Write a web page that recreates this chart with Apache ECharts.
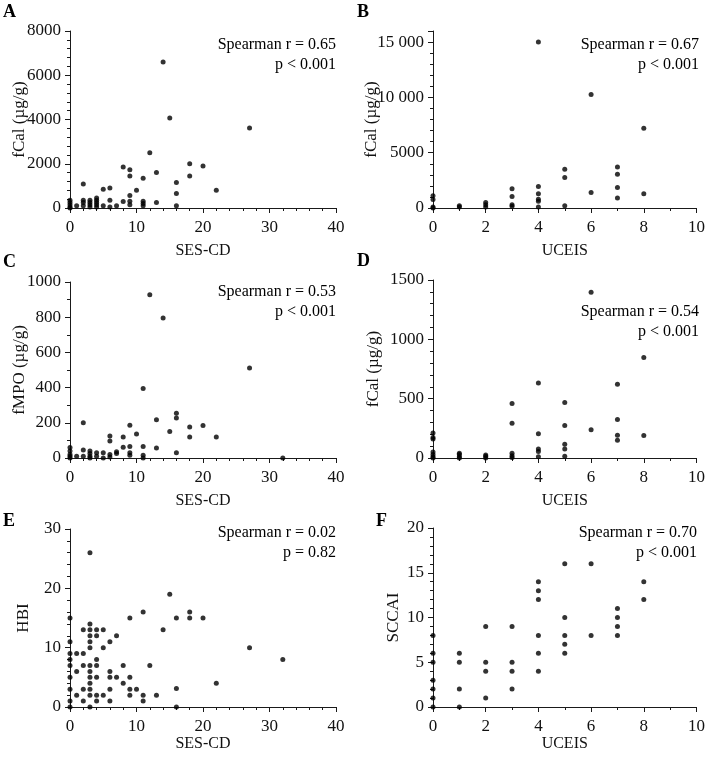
<!DOCTYPE html>
<html>
<head>
<meta charset="utf-8">
<script src="https://cdn.jsdelivr.net/npm/echarts@6/dist/echarts.min.js"></script>
<style>
html,body{margin:0;padding:0;background:#fff;}
#chart{width:708px;height:758px;}
</style>
</head>
<body>
<div id="chart"></div>
<script>
// ---- Data ----
const panelLetters = ['A', 'B', 'C', 'D', 'E', 'F'];
const xNames = ['SES-CD', 'UCEIS', 'SES-CD', 'UCEIS', 'SES-CD', 'UCEIS'];
const yNames = ['fCal (µg/g)', 'fCal (µg/g)', 'fMPO (µg/g)', 'fCal (µg/g)', 'HBI', 'SCCAI'];
const statR = ['Spearman r = 0.65', 'Spearman r = 0.67', 'Spearman r = 0.53', 'Spearman r = 0.54', 'Spearman r = 0.02', 'Spearman r = 0.70'];
const statP = ['p < 0.001', 'p < 0.001', 'p < 0.001', 'p < 0.001', 'p = 0.82', 'p < 0.001'];

// A: fCal vs SES-CD
const fcalVsSes = [
  [0,350],[0,250],[0,150],[0,50],[0,0],
  [1,100],
  [2,1080],[2,350],[2,250],[2,100],
  [3,350],[3,250],[3,150],[3,50],
  [4,450],[4,350],[4,250],[4,150],[4,50],
  [5,850],[5,100],
  [6,900],[6,350],[6,50],
  [7,100],
  [8,1850],[8,290],
  [9,1730],[9,1450],[9,570],[9,300],[9,150],
  [10,800],
  [11,1350],[11,300],[11,200],[11,100],
  [12,2500],
  [13,1600],[13,250],
  [14,6600],
  [15,4070],
  [16,1150],[16,650],[16,100],
  [18,2000],[18,1450],
  [20,1900],
  [22,800],
  [27,3620]
];
// B: fCal vs UCEIS
const fcalVsUceis = [
  [0,1100],[0,760],[0,100],[0,0],
  [1,200],[1,100],
  [2,500],[2,300],[2,100],
  [3,1750],[3,1050],[3,300],[3,150],
  [4,15000],[4,1950],[4,1290],[4,800],[4,600],[4,100],
  [5,3500],[5,2760],[5,200],
  [6,10250],[6,1400],
  [7,3700],[7,3050],[7,1860],[7,900],
  [8,7200],[8,1290]
];
// C: fMPO vs SES-CD
const fmpoVsSes = [
  [0,60],[0,40],[0,20],[0,10],[0,0],
  [1,10],
  [2,200],[2,45],[2,10],
  [3,40],[3,25],[3,10],[3,0],
  [4,30],[4,10],
  [5,30],[5,0],
  [6,125],[6,97],[6,20],[6,5],
  [7,35],[7,25],
  [8,120],[8,61],
  [9,186],[9,65],[9,30],[9,15],
  [10,136],
  [11,395],[11,65],[11,15],[11,0],
  [12,928],
  [13,218],[13,57],
  [14,795],
  [15,151],
  [16,254],[16,227],[16,30],
  [18,176],[18,119],
  [20,185],
  [22,119],
  [27,512],
  [32,0]
];
// D: fCal vs UCEIS (low range)
const fcalVsUceisLow = [
  [0,211],[0,172],[0,160],[0,50],[0,30],[0,10],[0,0],
  [1,40],[1,30],[1,10],[1,0],
  [2,25],[2,15],[2,0],
  [3,459],[3,293],[3,40],[3,20],[3,5],
  [4,633],[4,205],[4,75],[4,55],[4,10],
  [5,467],[5,273],[5,115],[5,76],[5,15],
  [6,1396],[6,239],
  [7,622],[7,324],[7,191],[7,149],
  [8,847],[8,189]
];
// E: HBI vs SES-CD
const hbiVsSes = [
  [0,15],[0,11],[0,9],[0,8],[0,7],[0,5],[0,3],[0,1],[0,0],
  [1,9],[1,6],[1,2],
  [2,13],[2,9],[2,7],[2,3],[2,1],
  [3,26],[3,14],[3,13],[3,12],[3,11],[3,10],[3,7],[3,6],[3,5],[3,4],[3,3],[3,2],[3,0],
  [4,13],[4,12],[4,8],[4,7],[4,5],[4,2],[4,1],
  [5,13],[5,10],[5,2],
  [6,11],[6,6],[6,5],[6,3],[6,1],
  [7,12],[7,5],
  [8,7],[8,4],
  [9,15],[9,5],[9,3],[9,2],
  [10,3],
  [11,16],[11,2],[11,1],
  [12,7],
  [13,2],
  [14,13],
  [15,19],
  [16,15],[16,3.1],[16,0],
  [18,16],[18,15],
  [20,15],
  [22,4],
  [27,10],
  [32,8]
];
// F: SCCAI vs UCEIS
const sccaiVsUceis = [
  [0,8],[0,6],[0,5],[0,3],[0,2],[0,1],[0,0],
  [1,6],[1,5],[1,2],[1,0],
  [2,9],[2,5],[2,4],[2,1],
  [3,9],[3,5],[3,4],[3,2],
  [4,14],[4,13],[4,12],[4,8],[4,6],[4,4],
  [5,16],[5,10],[5,8],[5,7],[5,6],
  [6,16],[6,8],
  [7,11],[7,10],[7,9],[7,8],
  [8,14],[8,12]
];
const panelData = [fcalVsSes, fcalVsUceis, fmpoVsSes, fcalVsUceisLow, hbiVsSes, sccaiVsUceis];

// axis settings per panel: [max, interval, minorSplit]
const xAxisCfg = [[40,10,5],[10,2,2],[40,10,5],[10,2,2],[40,10,5],[10,2,2]];
const yAxisCfg = [[8000,2000,5],[16000,5000,5],[1000,200,2],[1500,500,5],[30,10,5],[20,5,5]];

// ---- Layout ----
const grids = [
  {left:70, top:31, width:266, height:177},
  {left:433, top:31, width:267, height:177},
  {left:70, top:282, width:266, height:176},
  {left:433, top:280, width:267, height:178},
  {left:70, top:529, width:266, height:178},
  {left:433, top:528, width:267, height:179}
];
const xNameGap = [35, 35, 35, 35, 29, 29];
const yNameGap = [42, 53, 42, 51, 38, 31];
const letterPos = [[3,12],[357,12],[3,262],[357,261],[3,521],[376,521]];
const statPos = [[336,45],[699,45],[336,292],[699,312],[336,533],[697,533]];

const FONT = 'Liberation Serif';
const AX = '#1a1a1a';

function fmtNum(v, max){
  if (v === max && max === 16000) return '';
  if (Math.abs(v) >= 10000) {
    const s = String(v);
    return s.slice(0, s.length-3) + ' ' + s.slice(s.length-3);
  }
  return String(v);
}

const option = {
  animation:false,
  backgroundColor:'#fff',
  grid: grids.map(g => Object.assign({containLabel:false}, g)),
  xAxis: xAxisCfg.map((c,i) => ({
    type:'value', gridIndex:i, min:0, max:c[0], interval:c[1],
    name:xNames[i], nameLocation:'middle', nameGap:xNameGap[i], nameMoveOverlap:false,
    nameTextStyle:{fontFamily:FONT, fontSize:16, color:'#111'},
    axisLine:{show:true, onZero:false, lineStyle:{color:AX, width:1}},
    axisTick:{show:true, inside:false, length:5, lineStyle:{color:AX}},
    minorTick:{show:true, splitNumber:c[2], length:3, lineStyle:{color:AX}},
    splitLine:{show:false},
    axisLabel:{fontFamily:FONT, fontSize:17, color:'#111', margin:11},
  })),
  yAxis: yAxisCfg.map((c,i) => ({
    type:'value', gridIndex:i, min:0, max:c[0], interval:c[1],
    name:yNames[i], nameLocation:'middle', nameGap:yNameGap[i], nameRotate:90, nameMoveOverlap:false,
    nameTextStyle:{fontFamily:FONT, fontSize:17, color:'#111'},
    axisLine:{show:true, onZero:false, lineStyle:{color:AX, width:1}},
    axisTick:{show:true, inside:false, length:5, lineStyle:{color:AX}},
    minorTick:{show:true, splitNumber:c[2], length:3, lineStyle:{color:AX}},
    splitLine:{show:false},
    axisLabel:{fontFamily:FONT, fontSize:17, color:'#111', margin:9,
      formatter:(v)=>fmtNum(v, c[0])},
  })),
  series: panelData.map((d,i) => ({
    type:'scatter', xAxisIndex:i, yAxisIndex:i, data:d,
    symbol:'circle', symbolSize:5, clip:false,
    itemStyle:{color:'#000'}
  })),
  graphic: [].concat(
    panelLetters.map((t,i) => ({
      type:'text', x:letterPos[i][0], y:letterPos[i][1],
      style:{text:t, fill:'#000', font:'bold 18px "Liberation Serif"', textAlign:'left', textVerticalAlign:'middle'}
    })),
    statR.map((t,i) => ({
      type:'text', x:statPos[i][0], y:statPos[i][1],
      style:{text:t, fill:'#000', font:'16px "Liberation Serif"', textAlign:'right', textVerticalAlign:'middle'}
    })),
    statP.map((t,i) => ({
      type:'text', x:statPos[i][0], y:statPos[i][1]+20,
      style:{text:t, fill:'#000', font:'16px "Liberation Serif"', textAlign:'right', textVerticalAlign:'middle'}
    }))
  )
};

const chart = echarts.init(document.getElementById('chart'), null, {renderer:'canvas'});
chart.setOption(option);
</script>
</body>
</html>
